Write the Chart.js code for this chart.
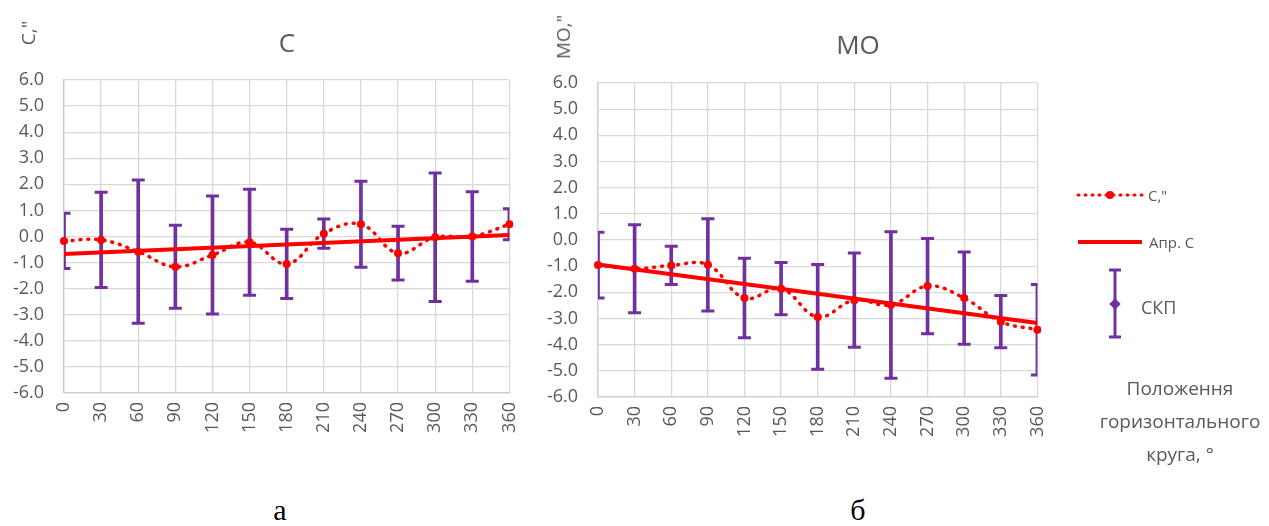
<!DOCTYPE html>
<html>
<head>
<meta charset="utf-8">
<script src="https://cdn.jsdelivr.net/npm/chart.js@4.4.1/dist/chart.umd.min.js"></script>
<style>
body { margin: 0; background: #fff; width: 1269px; height: 526px; position: relative; overflow: hidden; font-family: "Open Sans", sans-serif; color: #595959; }
.abs { position: absolute; white-space: nowrap; }
.title { font-size: 26px; transform: translate(-50%, -50%); }
.ytitle { font-size: 19px; transform: translate(-50%, -50%) rotate(-90deg); }
.panel { font-family: "Liberation Serif", serif; color: #000; font-size: 30px; transform: translate(-50%, -50%); }
.leg { font-size: 15px; transform: translateY(-50%); }
.axtitle { font-size: 19px; transform: translateX(-50%); text-align: center; line-height: 33px; }
</style>
</head>
<body>
<canvas id="chartC" class="abs" style="left:0;top:0"></canvas>
<canvas id="chartMO" class="abs" style="left:534px;top:0"></canvas>

<div class="abs ytitle" style="left:28px;top:33px">C,"</div>
<div class="abs title" style="left:287px;top:42px">C</div>
<div class="abs ytitle" style="left:563px;top:37px">MO,"</div>
<div class="abs title" style="left:858px;top:44px">MO</div>
<div class="abs panel" style="left:280px;top:510px">а</div>
<div class="abs panel" style="left:858px;top:510px">б</div>

<svg class="abs" style="left:0;top:0" width="1269" height="526">
  <line x1="1078" y1="195" x2="1142" y2="195" stroke="#ff0000" stroke-width="3" stroke-dasharray="1 6" stroke-linecap="round"/>
  <circle cx="1110" cy="195" r="4" fill="#ff0000"/>
  <line x1="1078" y1="242" x2="1142" y2="242" stroke="#ff0000" stroke-width="4"/>
  <line x1="1115" y1="270" x2="1115" y2="337" stroke="#7030a0" stroke-width="3"/>
  <line x1="1109" y1="270" x2="1121" y2="270" stroke="#7030a0" stroke-width="3"/>
  <line x1="1109" y1="337" x2="1121" y2="337" stroke="#7030a0" stroke-width="3"/>
  <rect x="1111" y="300" width="8" height="8" fill="#7030a0" transform="rotate(45 1115 304)"/>
</svg>
<div class="abs leg" style="left:1148px;top:195px">C,"</div>
<div class="abs leg" style="left:1149px;top:242px">Апр. С</div>
<div class="abs leg" style="left:1141px;top:307px;font-size:18px">СКП</div>
<div class="abs axtitle" style="left:1180px;top:372px">Положення<br>горизонтального<br>круга, °</div>

<script>
// positions of the horizontal circle, degrees
var angles = ['0', '30', '60', '90', '120', '150', '180', '210', '240', '270', '300', '330', '360'];

// panel a: C
var cValues = [-0.17, -0.13, -0.58, -1.16, -0.71, -0.22, -1.05, 0.11, 0.47, -0.64, -0.03, 0.0, 0.47];
var cSkp = [1.06, 1.83, 2.75, 1.59, 2.26, 2.03, 1.33, 0.56, 1.65, 1.03, 2.46, 1.72, 0.59];
var cTrend = [-0.67, null, null, null, null, null, null, null, null, null, null, null, 0.06];

// panel b: MO
var moValues = [-0.96, -1.1, -0.97, -0.95, -2.22, -1.86, -2.94, -2.3, -2.48, -1.76, -2.22, -3.12, -3.43];
var moSkp = [1.26, 1.68, 0.73, 1.76, 1.52, 1.0, 2.0, 1.8, 2.8, 1.82, 1.76, 1.0, 1.73];
var moTrend = [-0.94, null, null, null, null, null, null, null, null, null, null, null, -3.17];

var yTicks = [-6, 6, 1];

var RED = '#ff0000';
var PURPLE = '#7030a0';
var GRID = '#d9d9d9';
var TEXT = '#595959';

function BuildPanel(canvasId, width, pad, xHeight, values, skp, trend) {
    var cv = document.getElementById(canvasId);
    cv.width = width;
    cv.height = 470;
    cv.style.width = width + 'px';
    cv.style.height = '470px';

    var lows = values.map(function (v, i) { return v - skp[i]; });
    var highs = values.map(function (v, i) { return v + skp[i]; });
    var bars = lows.map(function (l, i) { return [l, highs[i]]; });

    new Chart(cv.getContext('2d'), {
        type: 'line',
        data: {
            labels: angles,
            datasets: [
                {
                    label: 'C,"',
                    data: values,
                    borderColor: RED,
                    backgroundColor: RED,
                    borderWidth: 3.5,
                    borderDash: [1, 7],
                    borderCapStyle: 'round',
                    tension: 0.4,
                    pointRadius: 4,
                    pointBorderWidth: 0,
                    order: 1
                },
                {
                    label: 'Апр. С',
                    data: trend,
                    spanGaps: true,
                    borderColor: RED,
                    borderWidth: 4,
                    pointRadius: 0,
                    order: 2
                },
                {
                    type: 'bar',
                    label: 'СКП',
                    data: bars,
                    backgroundColor: PURPLE,
                    barThickness: 3,
                    order: 3
                },
                {
                    label: 'СКП+',
                    data: highs,
                    showLine: false,
                    pointStyle: 'line',
                    pointRadius: 6.5,
                    pointBorderWidth: 3,
                    pointBorderColor: PURPLE,
                    clip: 0,
                    order: 3
                },
                {
                    label: 'СКП-',
                    data: lows,
                    showLine: false,
                    pointStyle: 'line',
                    pointRadius: 6.5,
                    pointBorderWidth: 3,
                    pointBorderColor: PURPLE,
                    clip: 0,
                    order: 3
                },
                {
                    label: 'СКП центр',
                    data: values,
                    showLine: false,
                    pointStyle: 'rectRot',
                    pointRadius: 4,
                    pointBorderWidth: 0,
                    pointBackgroundColor: PURPLE,
                    order: 3
                }
            ]
        },
        options: {
            responsive: false,
            animation: false,
            layout: { padding: pad },
            plugins: {
                legend: { display: false },
                tooltip: { enabled: false }
            },
            scales: {
                x: {
                    type: 'category',
                    offset: false,
                    grid: { color: GRID, lineWidth: 1.3, drawTicks: false, offset: false },
                    border: { color: '#cccccc', width: 1.3 },
                    ticks: {
                        color: TEXT,
                        font: { family: 'Open Sans', size: 18 },
                        minRotation: 90,
                        maxRotation: 90,
                        autoSkip: false,
                        padding: 9
                    },
                    afterFit: function (s) { s.height = xHeight; }
                },
                y: {
                    min: yTicks[0],
                    max: yTicks[1],
                    grid: { color: GRID, lineWidth: 1.3, drawTicks: false },
                    border: { color: '#cccccc', width: 1.3 },
                    ticks: {
                        stepSize: yTicks[2],
                        color: TEXT,
                        font: { family: 'Open Sans', size: 18 },
                        padding: 20,
                        callback: function (v) { return v.toFixed(1); }
                    },
                    afterFit: function (s) { s.width = 64; }
                }
            }
        }
    });
}

BuildPanel('chartC', 540, { top: 80, right: 28, left: 0, bottom: 0 }, 77, cValues, cSkp, cTrend);
BuildPanel('chartMO', 534, { top: 83, right: 29, left: 0, bottom: 0 }, 73, moValues, moSkp, moTrend);
</script>
</body>
</html>
